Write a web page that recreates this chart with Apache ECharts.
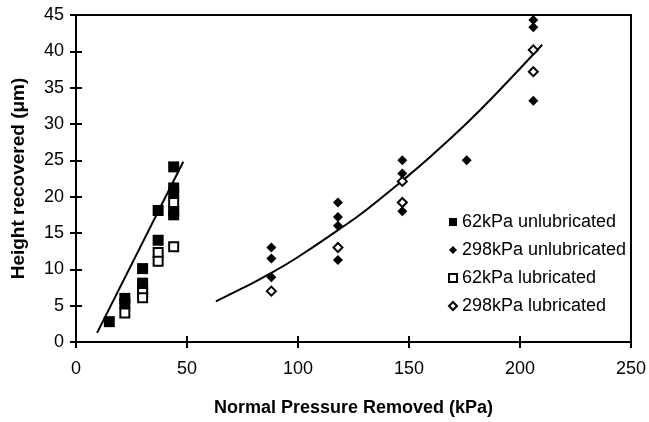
<!DOCTYPE html>
<html>
<head>
<meta charset="utf-8">
<title>Height recovered vs normal pressure removed</title>
<script src="https://cdn.jsdelivr.net/npm/echarts@6/dist/echarts.min.js"></script>
<style>
  html, body { margin: 0; padding: 0; background: #fff; }
  #chart { width: 649px; height: 422px; }
</style>
</head>
<body>
<div id="chart"></div>
<script>
// values, x = kPa, y = um
const unlub62 = [[15, 2.8], [22, 6.0], [22, 5.3], [30, 10.1], [30, 8.1], [30, 7.4], [37, 14.0], [37, 18.1],
  [44, 24.1], [44, 21.2], [44, 20.5], [44, 18.0], [44, 17.5]]
const unlub298 = [[88, 13.0], [88, 11.5], [88, 8.9], [118, 19.2], [118, 17.2], [118, 16.0], [118, 11.3],
  [147, 25.0], [147, 23.2], [147, 18.0], [176, 25.0], [206, 44.3], [206, 43.3], [206, 33.2]]
const lub62 = [[22, 4.0], [30, 6.8], [30, 6.1], [37, 12.3], [37, 11.1], [44, 19.2], [44, 13.1]]
const lub298 = [[88, 7.0], [118, 13.0], [147, 22.1], [147, 19.2], [206, 40.2], [206, 37.2]]

// fitted lines as drawn in the figure
const fit62X = [9.5, 48.3]
const fit62Y = [1.25, 24.8]
const fit298X = [63, 75, 88, 100, 118, 130, 147, 160, 176, 190, 210]
const fit298Y = [5.6, 7.4, 9.5, 11.7, 15.4, 18.0, 22.2, 25.6, 30.1, 34.4, 40.9]

const legendNames = ['62kPa unlubricated', '298kPa unlubricated', '62kPa lubricated', '298kPa lubricated']
const xTicks = { min: 0, max: 250, step: 50 }
const yTicks = { min: 0, max: 45, step: 5 }

const font = "'Liberation Sans', Arial, sans-serif"

const chart = echarts.init(document.getElementById('chart'))

function pairs(xs, ys) {
  return xs.map((x, i) => [x, ys[i]])
}

const filled = { color: '#000', opacity: 1 }
const open = { color: '#fff', borderColor: '#000', borderWidth: 2, opacity: 1 }

const option = {
  animation: false,
  backgroundColor: '#fff',
  textStyle: { fontFamily: font, color: '#000' },
  grid: {
    left: 76,
    right: 15,
    top: 15,
    bottom: 76,
    show: true,
    borderColor: '#000',
    borderWidth: 2
  },
  legend: {
    data: legendNames,
    orient: 'vertical',
    left: 443,
    top: 208,
    itemWidth: 8,
    itemHeight: 8,
    itemGap: 10,
    textStyle: { fontFamily: font, fontSize: 18, color: '#000', lineHeight: 18 }
  },
  xAxis: [{
    type: 'value',
    min: xTicks.min,
    max: xTicks.max,
    interval: xTicks.step,
    name: 'Normal Pressure Removed (kPa)',
    nameLocation: 'middle',
    nameGap: 57,
    nameTextStyle: { fontFamily: font, fontSize: 18, fontWeight: 'bold', color: '#000' },
    axisLine: { lineStyle: { color: '#000', width: 2 } },
    axisTick: { length: 6, lineStyle: { color: '#000', width: 2 } },
    axisLabel: { margin: 18, fontFamily: font, fontSize: 18, color: '#000' },
    splitLine: { show: false }
  }, {
    type: 'value',
    position: 'bottom',
    min: xTicks.min,
    max: xTicks.max,
    interval: xTicks.step,
    axisLine: { show: false },
    axisTick: { inside: true, length: 6, lineStyle: { color: '#000', width: 2 } },
    axisLabel: { show: false },
    splitLine: { show: false }
  }],
  yAxis: [{
    type: 'value',
    min: yTicks.min,
    max: yTicks.max,
    interval: yTicks.step,
    name: 'Height recovered (\u03bcm)',
    nameLocation: 'middle',
    nameGap: 48,
    nameTextStyle: { fontFamily: font, fontSize: 19, fontWeight: 'bold', color: '#000' },
    axisLine: { lineStyle: { color: '#000', width: 2 } },
    axisTick: { length: 6, lineStyle: { color: '#000', width: 2 } },
    axisLabel: { margin: 12, fontFamily: font, fontSize: 18, color: '#000' },
    splitLine: { show: false }
  }, {
    type: 'value',
    position: 'left',
    min: yTicks.min,
    max: yTicks.max,
    interval: yTicks.step,
    axisLine: { show: false },
    axisTick: { inside: true, length: 6, lineStyle: { color: '#000', width: 2 } },
    axisLabel: { show: false },
    splitLine: { show: false }
  }],
  series: [
    {
      name: 'fit62',
      type: 'line',
      data: pairs(fit62X, fit62Y),
      showSymbol: false,
      silent: true,
      lineStyle: { color: '#000', width: 2 },
      z: 1
    },
    {
      name: 'fit298',
      type: 'line',
      data: pairs(fit298X, fit298Y),
      smooth: true,
      showSymbol: false,
      silent: true,
      lineStyle: { color: '#000', width: 2 },
      z: 1
    },
    {
      name: legendNames[0],
      type: 'scatter',
      data: unlub62,
      symbol: 'rect',
      symbolSize: 11,
      itemStyle: filled,
      z: 2
    },
    {
      name: legendNames[1],
      type: 'scatter',
      data: unlub298,
      symbol: 'diamond',
      symbolSize: 10,
      itemStyle: filled,
      z: 2
    },
    {
      name: legendNames[2],
      type: 'scatter',
      data: lub62,
      symbol: 'rect',
      symbolSize: 9,
      itemStyle: open,
      z: 3
    },
    {
      name: legendNames[3],
      type: 'scatter',
      data: lub298,
      symbol: 'diamond',
      symbolSize: 9,
      itemStyle: open,
      z: 3
    }
  ]
}

chart.setOption(option)
</script>
</body>
</html>
